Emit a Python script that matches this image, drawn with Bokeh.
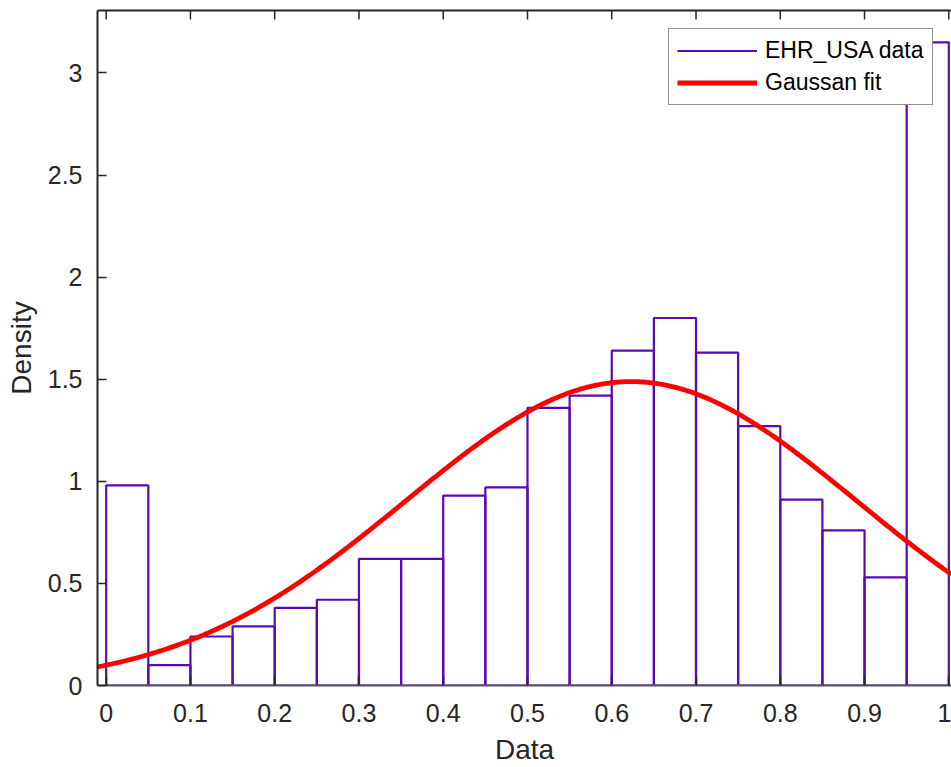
import numpy as np
from bokeh.plotting import figure
from bokeh.models import Range1d, FixedTicker, LinearAxis, Legend, LegendItem
from bokeh.embed import file_html
from bokeh.resources import INLINE

# ---- data ----
bin_edges = [0.00, 0.05, 0.10, 0.15, 0.20, 0.25, 0.30, 0.35, 0.40, 0.45, 0.50,
             0.55, 0.60, 0.65, 0.70, 0.75, 0.80, 0.85, 0.90, 0.95, 1.00]
densities = [0.98, 0.10, 0.24, 0.29, 0.38, 0.42, 0.62, 0.62, 0.93, 0.97,
             1.36, 1.42, 1.64, 1.80, 1.63, 1.27, 0.91, 0.76, 0.53, 3.15]
fit_mu = 0.623      # Gaussian fit mean
fit_sigma = 0.268   # Gaussian fit standard deviation

x_ticks = [0, 0.1, 0.2, 0.3, 0.4, 0.5, 0.6, 0.7, 0.8, 0.9, 1.0]
x_tick_labels = ["0", "0.1", "0.2", "0.3", "0.4", "0.5", "0.6", "0.7", "0.8", "0.9", "1"]
y_ticks = [0, 0.5, 1.0, 1.5, 2.0, 2.5, 3.0]
y_tick_labels = ["0", "0.5", "1", "1.5", "2", "2.5", "3"]

series_names = ["EHR_USA data", "Gaussan fit"]

# ---- styles ----
FONT = "Liberation Sans"
TXT = "#262626"
PURPLE = "#5a0ab4"
RED = "#ff0000"

x_lo, x_hi = -0.0103, 1.0032
y_lo, y_hi = 0.0, 3.306

p = figure(width=951, height=767, output_backend="svg", toolbar_location=None,
           x_range=Range1d(x_lo, x_hi), y_range=Range1d(y_lo, y_hi),
           min_border_left=97, min_border_right=0, min_border_top=10, min_border_bottom=80)
p.outline_line_color = None
p.xgrid.visible = False
p.ygrid.visible = False
p.background_fill_color = "white"
p.border_fill_color = "white"

# histogram bars as outlines built from bin edges and densities
bar_xs = [[l, l, r, r, l] for l, r in zip(bin_edges[:-1], bin_edges[1:])]
bar_ys = [[0, h, h, 0, 0] for h in densities]
hist_r = p.multi_line(xs=bar_xs, ys=bar_ys, line_color=PURPLE, line_width=2.2)

xs = np.linspace(x_lo, x_hi, 400)
ys = np.exp(-(xs - fit_mu) ** 2 / (2 * fit_sigma ** 2)) / (fit_sigma * np.sqrt(2 * np.pi))
fit_r = p.line(xs, ys, line_color=RED, line_width=4.8)

for ax, ticks, labels in ((p.xaxis[0], x_ticks, x_tick_labels), (p.yaxis[0], y_ticks, y_tick_labels)):
    ax.ticker = FixedTicker(ticks=ticks)
    ax.major_label_overrides = {t: l for t, l in zip(ticks, labels)}
    ax.major_tick_in = 9
    ax.major_tick_out = 0
    ax.minor_tick_line_color = None
    ax.axis_line_color = TXT
    ax.axis_line_width = 2
    ax.major_tick_line_color = TXT
    ax.major_tick_line_width = 1.5
    ax.major_label_text_font = FONT
    ax.major_label_text_font_size = "25px"
    ax.major_label_text_color = TXT
    ax.axis_label_text_font = FONT
    ax.axis_label_text_font_size = "28px"
    ax.axis_label_text_font_style = "normal"
    ax.axis_label_text_color = TXT

p.xaxis.axis_line_color = "#555555"
p.xaxis.axis_label = "Data"
p.yaxis.axis_label = "Density"
p.xaxis.major_label_standoff = 18
p.xaxis.axis_label_standoff = 9
p.yaxis.major_label_standoff = 15
p.yaxis.axis_label_standoff = 8

# top box edge (no ticks of its own) plus inward tick marks at the x ticks
top_ax = LinearAxis(ticker=FixedTicker(ticks=[]), axis_line_color=TXT, axis_line_width=2,
                    major_tick_in=0, major_tick_out=0, minor_tick_line_color=None,
                    major_label_standoff=0)
p.add_layout(top_ax, "above")
p.scatter(x=x_ticks, y=[y_hi] * len(x_ticks), marker="dash", angle=np.pi / 2,
          size=18, line_color=TXT, line_width=1.5)

legend = Legend(items=[LegendItem(label=series_names[0], renderers=[hist_r]),
                       LegendItem(label=series_names[1], renderers=[fit_r])],
                location=(571, 580))
legend.label_text_font = FONT
legend.label_text_font_size = "23px"
legend.label_text_color = "black"
legend.border_line_color = TXT
legend.border_line_width = 1
legend.background_fill_color = "white"
legend.background_fill_alpha = 1
legend.padding = 8
legend.spacing = 5
legend.glyph_width = 80
legend.glyph_height = 27
legend.label_height = 27
legend.label_standoff = 8
legend.margin = 0
p.add_layout(legend, "center")

open("out.html", "w").write(file_html(p, INLINE))
